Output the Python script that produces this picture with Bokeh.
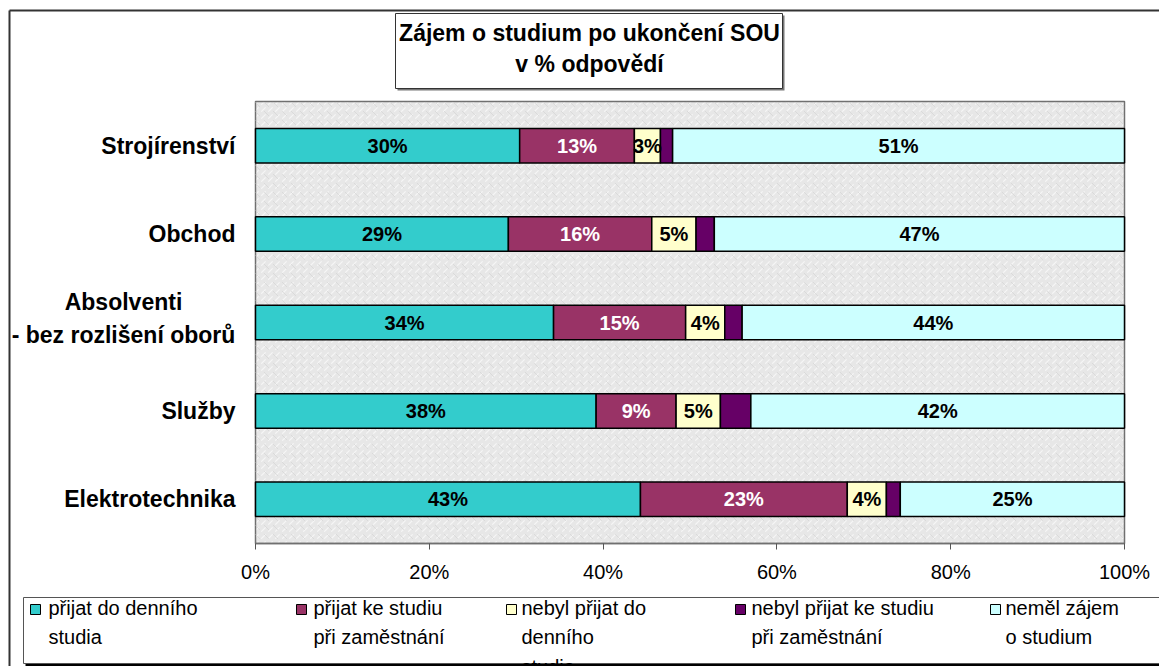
from bokeh.plotting import figure
from bokeh.models import (ColumnDataSource, Range1d, LinearAxis, PrintfTickFormatter, FixedTicker)
from bokeh.core.properties import value
from bokeh.embed import file_html
from bokeh.resources import INLINE
import numpy as np

# ---------------- data (top row first) ----------------
categories = ["Strojírenství", "Obchod", "Absolventi\n- bez rozlišení oborů", "Služby", "Elektrotechnika"]

prijat_denni = [30.4, 29.1, 34.3, 39.2, 44.3]
prijat_zamest = [13.2, 16.5, 15.2, 9.2, 23.8]
nebyl_denni = [3.0, 5.1, 4.5, 5.1, 4.5]
nebyl_zamest = [1.4, 2.1, 2.0, 3.5, 1.6]
nemel_zajem = [52.0, 47.2, 44.0, 43.0, 25.8]

lbl_prijat_denni = ["30%", "29%", "34%", "38%", "43%"]
lbl_prijat_zamest = ["13%", "16%", "15%", "9%", "23%"]
lbl_nebyl_denni = ["3%", "5%", "4%", "5%", "4%"]
lbl_nebyl_zamest = ["", "", "", "", ""]
lbl_nemel_zajem = ["51%", "47%", "44%", "42%", "25%"]

series_names = ["přijat do denního\nstudia", "přijat ke studiu\npři zaměstnání",
                "nebyl přijat do\ndenního\nstudia", "nebyl přijat ke studiu\npři zaměstnání",
                "neměl zájem\no studium"]
colors = ["#33CCCC", "#993366", "#FFFFCC", "#660066", "#CCFFFF"]
label_colors = ["black", "white", "black", "black", "black"]

x_ticks = [0, 20, 40, 60, 80, 100]
title_text = "Zájem o studium po ukončení SOU\nv % odpovědí"

FONT = "Liberation Sans"
W, H = 1159, 666

keys = ["a", "b", "c", "d", "e"]
series_vals = [prijat_denni, prijat_zamest, nebyl_denni, nebyl_zamest, nemel_zajem]
series_lbls = [lbl_prijat_denni, lbl_prijat_zamest, lbl_nebyl_denni, lbl_nebyl_zamest, lbl_nemel_zajem]

n = len(categories)
rows = [float(r) for r in np.arange(n)[::-1]]  # top category -> highest row

data = {"y": rows}
for k, v in zip(keys, series_vals):
    data[k] = v
source = ColumnDataSource(data)

# plot area in canvas pixels: x 255..1124 (0..100 %), y 101..543 (5 rows)
PL, PR, PT, PB = 255, 1124, 101, 543
xs = (PR - PL) / 100.0
ys = (PB - PT) / n
x_range = Range1d(-PL / xs, (W - PL) / xs)
y_range = Range1d(-0.5 - (H - PB) / ys, n - 0.5 + PT / ys)

p = figure(width=W, height=H, output_backend="svg", toolbar_location=None,
           x_range=x_range, y_range=y_range, x_axis_location=None, y_axis_location=None,
           min_border=0, min_border_left=0, min_border_right=0, min_border_top=0,
           min_border_bottom=0)
p.extra_x_ranges = {"px": Range1d(0, W)}
p.extra_y_ranges = {"px": Range1d(H, 0)}
p.outline_line_color = None
p.background_fill_color = "white"
p.border_fill_color = "white"
p.xgrid.visible = False
p.ygrid.visible = False

PX = dict(x_range_name="px", y_range_name="px")

# outer chart frame (left and top edges visible)
p.segment(x0=[9, 9], y0=[10, 10], x1=[W + 5, 9], y1=[10, H + 5], line_color="#333333",
          line_width=2, **PX)

# plot area (light grey textured background)
p.quad(left=[0], right=[100], bottom=[-0.5], top=[n - 0.5], fill_color="#e7e7e7",
       hatch_pattern=",", hatch_color="#f7f7f7", hatch_alpha=0.9, hatch_scale=7,
       hatch_weight=1.2, line_color="#707070", line_width=1.5)
p.quad(left=[0], right=[100], bottom=[-0.5], top=[n - 0.5], fill_alpha=0,
       hatch_pattern="`", hatch_color="#d2d2d2", hatch_alpha=0.6, hatch_scale=9,
       hatch_weight=1.0, line_color=None)

p.hbar_stack(keys, y="y", height=0.39, source=source, color=colors,
             line_color="black", line_width=1.5)

# segment labels
cum = np.zeros(n)
for vals, lbls, tc in zip(series_vals, series_lbls, label_colors):
    vals = np.array(vals)
    centers = cum + vals / 2
    cum = cum + vals
    p.text(x=list(centers), y=rows, text=lbls, text_font=value(FONT),
           text_font_style="bold", text_font_size="20px", text_align="center",
           text_baseline="middle", text_color=tc)

# category labels
single = [i for i, c in enumerate(categories) if "\n" not in c]
multi = [i for i, c in enumerate(categories) if "\n" in c]
p.text(x=[0] * len(single), y=[rows[i] for i in single], text=[categories[i] for i in single],
       x_offset=-20, text_font=value(FONT), text_font_style="bold", text_font_size="23px",
       text_align="right", text_baseline="middle", text_color="black")
p.text(x=[0] * len(multi), y=[rows[i] for i in multi], text=[categories[i] for i in multi],
       x_offset=-132, y_offset=-4, text_font=value(FONT), text_font_style="bold",
       text_font_size="23px", text_align="center", text_baseline="middle",
       text_color="black", text_line_height=1.3)

# x axis fixed at the bottom of the plot area
xaxis = LinearAxis(fixed_location=-0.5, bounds=(0, 100), ticker=FixedTicker(ticks=x_ticks),
                   formatter=PrintfTickFormatter(format="%d%%"))
xaxis.axis_line_color = "#707070"
xaxis.axis_line_width = 1.5
xaxis.major_tick_line_color = "#555555"
xaxis.major_tick_in = 0
xaxis.major_tick_out = 6
xaxis.minor_tick_line_color = None
xaxis.major_label_standoff = 11
xaxis.major_label_text_font = FONT
xaxis.major_label_text_font_size = "20px"
xaxis.major_label_text_color = "black"
p.add_layout(xaxis, "below")

# title box with shadow
p.quad(left=[397], right=[784], top=[15], bottom=[90], fill_color="#777777", line_color=None, **PX)
p.quad(left=[395], right=[782], top=[13], bottom=[88], fill_color="white",
       line_color="#333333", line_width=1, **PX)
p.text(x=[589], y=[48], text=[title_text], text_font=value(FONT), text_font_style="bold",
       text_font_size="23px", text_align="center", text_baseline="middle",
       text_line_height=1.17, text_color="black", **PX)

# legend box with shadow
p.quad(left=[25], right=[W + 10], top=[599], bottom=[H + 5], fill_color="black",
       line_color=None, **PX)
p.quad(left=[23], right=[W + 10], top=[597], bottom=[663], fill_color="white",
       line_color="#555555", line_width=1, **PX)

legend_sq_x = [30, 296, 506, 735, 990]
legend_text_x = [48, 313, 521, 751, 1005]
p.quad(left=legend_sq_x, right=[x + 10 for x in legend_sq_x], top=[604] * n, bottom=[614] * n,
       fill_color=colors, line_color="black", line_width=1, **PX)
p.text(x=legend_text_x, y=[596] * n, text=series_names, text_font=value(FONT),
       text_font_size="20px", text_align="left", text_baseline="top",
       text_line_height=1.35, text_color="black", **PX)

open("out.html", "w").write(file_html(p, INLINE))
